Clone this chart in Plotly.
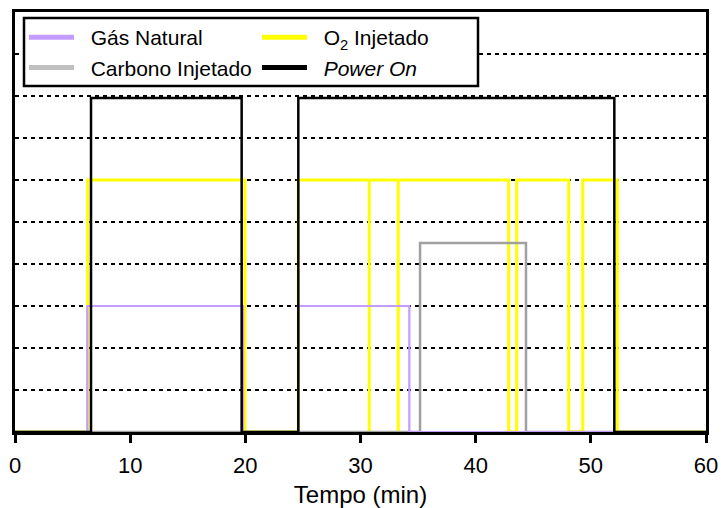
import plotly.graph_objects as go

# ---- data (minutes / relative level) ----
gas_on = [6.28, 24.6]
gas_off = [19.8, 34.24]
gas_level = 3

o2_on = [6.31, 24.6, 30.76, 33.28, 43.56, 49.30]
o2_off = [19.97, 30.76, 33.28, 42.87, 48.08, 52.30]
o2_level = 6

carb_on = [35.17]
carb_off = [44.37]
carb_level = 4.5

power_on = [6.6, 24.6]
power_off = [19.68, 52.04]
power_level = 7.95

x_ticks = [0, 10, 20, 30, 40, 50, 60]
x_range = [0, 60]

names = ["Gás Natural", "O<sub>2</sub> Injetado", "Carbono Injetado", "<i>Power On</i>"]


def step_path(on, off, level, x_end):
    xs, ys = [0], [0]
    for a, b in zip(on, off):
        xs += [a, a, b, b]
        ys += [0, level, level, 0]
    xs.append(x_end)
    ys.append(0)
    return xs, ys


fig = go.Figure()

series = [
    # (name, on, off, level, line color, width, legend color, rank)
    (names[1], o2_on, o2_off, o2_level, "#FFFF00", 3, "#FFFF00", 2),
    (names[2], carb_on, carb_off, carb_level, "#A0A0A0", 2.5, "#C0C0C0", 3),
    (names[0], gas_on, gas_off, gas_level, "#C49BFF", 2.2, "#C49BFF", 1),
    (names[3], power_on, power_off, power_level, "#000000", 2.5, "#000000", 4),
]

for name, on, off, lvl, col, w, lcol, rank in series:
    xs, ys = step_path(on, off, lvl, x_range[1])
    fig.add_trace(go.Scatter(x=xs, y=ys, mode="lines", line=dict(color=col, width=w),
                             showlegend=False, hoverinfo="skip"))

# legend-only entries (thicker samples)
pad = "\u00a0\u00a0"
for name, on, off, lvl, col, w, lcol, rank in series:
    fig.add_trace(go.Scatter(x=[None], y=[None], mode="lines", name=pad + name,
                             line=dict(color=lcol, width=5), legendrank=rank))

L, R, T, B = 15, 15, 12, 76
W, H = 721, 508
pw, ph = W - L - R, H - T - B


def px(xp):
    return (xp - L) / pw


def py(yp):
    return 1 - (yp - T) / ph


fig.add_shape(type="rect", xref="paper", yref="paper",
              x0=px(24), x1=px(478), y0=py(86), y1=py(18),
              fillcolor="white", line=dict(color="black", width=2.5), layer="above")

fig.update_layout(
    width=W, height=H,
    margin=dict(l=L, r=R, t=T, b=B, autoexpand=False),
    paper_bgcolor="white", plot_bgcolor="white",
    font=dict(family="Liberation Sans, Arial, sans-serif", size=21, color="black"),
    legend=dict(orientation="h", x=px(24), y=py(17), xanchor="left", yanchor="top",
                bgcolor="rgba(0,0,0,0)", borderwidth=0, itemwidth=45,
                entrywidth=173, font=dict(size=21), traceorder="normal"),
)

fig.update_xaxes(range=x_range, tickvals=x_ticks, ticks="outside", ticklen=8, tickwidth=3,
                 tickcolor="black", showline=True, linewidth=3, linecolor="black", mirror=True,
                 showgrid=False, zeroline=False, automargin=False, ticklabelstandoff=4,
                 tickfont=dict(size=22),
                 title=dict(text="Tempo (min)", font=dict(size=24), standoff=14))
fig.update_yaxes(range=[0, 10], dtick=1, showticklabels=False, ticks="",
                 showline=True, linewidth=3, linecolor="black", mirror=True,
                 showgrid=True, gridcolor="black", gridwidth=2, griddash="4px,4px",
                 zeroline=False, automargin=False)

fig.write_html("out.html")
